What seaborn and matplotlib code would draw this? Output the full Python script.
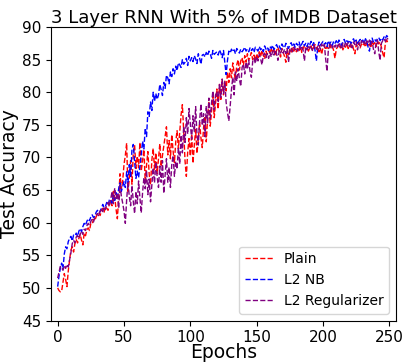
import numpy as np
import pandas as pd
import matplotlib
matplotlib.use("Agg")
import matplotlib.pyplot as plt
import seaborn as sns

title = "3 Layer RNN With 5% of IMDB Dataset"
series_names = ["Plain", "L2 NB", "L2 Regularizer"]
series_colors = ["red", "blue", "purple"]

plain = [
    50.0, 49.6, 49.4, 49.5, 50.8, 52.2, 51.3, 50.2, 52.6, 54.3,
    55.8, 56.3, 55.5, 56.8, 57.4, 56.9, 57.6, 58.2, 57.3, 56.6,
    58.4, 58.0, 58.9, 59.2, 58.8, 59.9, 59.8, 60.5, 60.3, 60.9,
    61.3, 61.5, 61.1, 61.8, 62.2, 61.6, 62.5, 62.2, 61.9, 62.9,
    63.4, 62.6, 64.8, 63.9, 62.1, 60.6, 63.8, 67.5, 65.2, 66.4,
    68.9, 70.3, 72.2, 64.8, 66.7, 69.5, 65.9, 70.6, 71.9, 68.3,
    70.2, 68.4, 72.3, 67.9, 69.5, 71.2, 66.3, 68.8, 70.9, 67.4,
    65.8, 69.6, 71.4, 68.2, 70.7, 67.5, 69.9, 72.1, 68.6, 70.3,
    71.8, 73.2, 74.7, 70.4, 72.6, 69.8, 73.5, 71.0, 69.2, 72.4,
    74.1, 71.3, 73.8, 76.5, 78.1, 74.0, 69.5, 67.1, 70.8, 72.9,
    70.2, 73.6, 69.1, 71.9, 74.3, 70.6, 72.8, 75.4, 73.0, 71.5,
    74.6, 76.3, 72.4, 75.9, 78.6, 74.8, 77.2, 79.4, 76.1, 78.3,
    80.5, 77.4, 81.2, 78.9, 82.0, 79.6, 81.7, 80.2, 83.1, 81.5,
    83.6, 82.2, 84.5, 83.0, 81.8, 84.2, 85.0, 83.4, 84.8, 85.3,
    84.1, 85.6, 84.6, 85.9, 84.9, 85.4, 86.1, 85.0, 85.7, 84.8,
    85.9, 85.3, 86.2, 85.5, 86.4, 85.7, 85.1, 86.3, 85.8, 86.5,
    85.9, 86.6, 86.0, 86.8, 85.6, 86.4, 86.9, 86.2, 85.4, 86.7,
    86.1, 85.5, 84.6, 86.4, 85.8, 86.6, 86.0, 86.9, 86.3, 86.7,
    86.2, 86.9, 86.4, 87.0, 86.1, 86.7, 87.2, 86.5, 86.9, 86.3,
    86.8, 87.1, 86.4, 86.9, 87.3, 86.6, 87.0, 86.2, 86.8, 85.8,
    86.9, 87.2, 86.5, 87.0, 86.7, 87.3, 86.8, 87.1, 86.4, 85.2,
    86.6, 87.0, 87.4, 86.8, 87.2, 86.5, 87.1, 86.9, 87.5, 86.7,
    87.2, 86.9, 87.4, 86.6, 85.9, 87.3, 87.0, 87.6, 86.8, 87.4,
    87.1, 87.5, 86.9, 87.7, 87.2, 87.4, 86.8, 87.8, 87.3, 87.6,
    87.0, 87.9, 87.4, 87.7, 86.9, 86.0, 85.3, 87.6, 88.0, 87.5,
]

l2_nb = [
    50.2, 51.8, 53.0, 53.8, 52.9, 55.2, 56.3, 56.0, 57.1, 57.6,
    57.9, 57.2, 58.1, 58.0, 58.4, 57.9, 58.7, 59.1, 58.6, 59.4,
    59.9, 59.6, 60.2, 60.6, 60.3, 60.9, 61.2, 60.8, 61.0, 61.6,
    61.9, 61.5, 61.7, 62.2, 62.8, 62.3, 62.5, 63.1, 62.7, 63.5,
    63.6, 63.0, 64.2, 63.4, 64.6, 63.8, 65.2, 66.1, 64.8, 65.5,
    66.3, 65.4, 67.8, 66.2, 68.9, 67.1, 71.2, 72.0, 69.4, 66.8,
    67.9, 66.9, 68.7, 70.4, 72.5, 71.3, 74.5, 73.2, 77.0, 76.3,
    78.5, 77.2, 80.0, 78.6, 79.8, 78.9, 79.6, 81.2, 80.4, 79.5,
    81.5, 80.6, 82.6, 82.2, 81.3, 83.1, 82.4, 83.6, 82.8, 84.0,
    83.3, 84.5, 84.2, 83.8, 85.0, 84.3, 84.6, 85.2, 84.1, 85.5,
    84.8, 85.3, 84.7, 85.6, 85.1, 84.4, 85.9, 85.2, 84.3, 85.7,
    85.8, 85.4, 86.1, 85.6, 86.3, 85.9, 85.2, 86.4, 85.8, 86.0,
    86.2, 85.7, 86.5, 86.0, 85.3, 86.4, 84.6, 82.7, 84.9, 86.3,
    86.0, 86.6, 86.2, 86.5, 85.9, 86.7, 86.3, 86.0, 86.6, 86.2,
    86.5, 86.9, 86.3, 86.6, 86.2, 86.8, 86.4, 86.7, 86.1, 86.9,
    86.6, 86.3, 87.0, 86.5, 86.8, 86.2, 87.1, 86.6, 86.9, 86.4,
    87.0, 86.7, 87.2, 86.5, 86.9, 87.3, 86.8, 87.1, 86.6, 87.4,
    87.0, 86.8, 87.5, 87.1, 86.7, 87.3, 87.6, 87.0, 87.4, 86.9,
    87.5, 87.2, 87.7, 86.9, 87.4, 87.8, 87.1, 87.5, 87.0, 87.6,
    87.3, 87.8, 87.2, 87.6, 86.4, 84.8, 86.9, 87.7, 87.2, 87.5,
    87.8, 87.3, 87.6, 87.0, 87.9, 87.4, 87.7, 87.2, 87.8, 87.5,
    87.9, 87.4, 88.0, 87.6, 87.2, 87.8, 88.1, 87.5, 87.9, 87.6,
    88.0, 87.4, 87.9, 88.2, 87.6, 88.0, 87.3, 87.8, 88.1, 87.7,
    88.0, 87.5, 88.2, 87.8, 86.9, 86.3, 87.9, 88.3, 87.7, 88.1,
    87.8, 88.2, 88.4, 87.9, 88.3, 88.0, 88.5, 88.2, 88.7, 88.4,
]

l2_reg = [
    51.5, 52.4, 53.3, 53.1, 52.7, 53.4, 53.0, 53.6, 53.2, 54.3,
    55.4, 56.8, 57.3, 56.9, 57.8, 58.0, 57.6, 58.3, 58.7, 58.2,
    59.0, 58.8, 59.5, 59.9, 59.6, 60.2, 60.5, 60.1, 60.8, 61.2,
    61.4, 61.0, 61.8, 62.1, 61.7, 62.4, 62.0, 62.8, 63.1, 62.5,
    63.6, 64.8, 62.9, 65.3, 63.7, 64.5, 62.2, 65.8, 64.1, 63.0,
    61.8, 59.9, 63.5, 66.2, 64.0, 62.6, 65.7, 63.3, 61.4, 64.8,
    62.9, 66.4, 63.8, 61.5, 64.6, 66.9, 65.2, 68.0, 64.3, 66.7,
    63.2, 65.8, 68.4, 66.1, 69.3, 67.0, 65.4, 68.7, 66.2, 69.5,
    64.5, 67.3, 69.8, 66.2, 68.5, 65.4, 68.9, 70.3, 67.1, 69.4,
    68.2, 71.5, 69.0, 73.4, 70.7, 74.8, 72.3, 76.1, 73.6, 77.5,
    75.2, 72.8, 76.4, 74.0, 77.8, 73.5, 71.9, 75.6, 78.2, 74.9,
    76.7, 73.2, 77.9, 75.3, 79.1, 76.0, 78.4, 80.2, 77.3, 79.6,
    80.1, 78.6, 81.3, 79.2, 82.0, 79.8, 81.6, 78.4, 76.9, 75.6,
    77.8, 80.4, 82.3, 79.6, 83.1, 81.7, 83.6, 82.0, 80.9, 83.8,
    84.3, 82.8, 84.6, 83.5, 84.9, 83.2, 82.3, 84.7, 85.2, 84.4,
    85.5, 84.8, 85.8, 85.1, 84.2, 85.6, 86.0, 85.3, 85.9, 85.2,
    86.1, 85.4, 86.3, 85.7, 86.5, 85.9, 84.9, 86.4, 86.0, 86.6,
    86.0, 86.6, 85.9, 86.7, 84.6, 86.3, 86.8, 86.2, 86.9, 86.5,
    86.8, 86.3, 87.0, 86.6, 87.1, 86.4, 84.8, 86.9, 86.5, 87.2,
    86.7, 87.1, 86.4, 87.3, 86.8, 87.0, 86.5, 87.2, 86.6, 87.4,
    86.9, 87.3, 85.1, 83.2, 86.4, 87.1, 87.5, 86.8, 87.3, 86.9,
    87.4, 86.9, 87.6, 87.1, 86.6, 87.5, 87.0, 87.7, 87.2, 87.6,
    87.0, 87.5, 86.8, 87.7, 87.3, 87.8, 86.5, 87.6, 87.1, 87.9,
    87.4, 87.8, 87.2, 87.9, 87.5, 88.0, 87.3, 87.8, 86.6, 85.9,
    87.6, 88.0, 86.2, 84.9, 87.5, 87.9, 88.2, 87.8, 88.4, 88.1,
]

x_ticks = [0, 50, 100, 150, 200, 250]
y_ticks = [45, 50, 55, 60, 65, 70, 75, 80, 85, 90]

epochs = list(range(len(plain)))
df = pd.concat([
    pd.DataFrame({"Epochs": epochs, "Test Accuracy": vals, "Model": name})
    for name, vals in zip(series_names, [plain, l2_nb, l2_reg])
], ignore_index=True)

fig = plt.figure(figsize=(4.03, 3.62), dpi=100)
ax = fig.add_axes([0.1266, 0.1146, 0.8560, 0.8108])

for name, color in zip(series_names, series_colors):
    sub = df[df["Model"] == name]
    sns.lineplot(data=sub, x="Epochs", y="Test Accuracy", color=color,
                 linestyle="--", linewidth=1.0, label=name, ax=ax)

ax.set_xlim(-5, 255)
ax.set_ylim(45, 90)
ax.set_xticks(x_ticks)
ax.set_yticks(y_ticks)
ax.tick_params(labelsize=11)
ax.set_xlabel("Epochs", fontsize=13.5, labelpad=-1.5)
ax.set_ylabel("Test Accuracy", fontsize=13.5, labelpad=2)
ax.set_title(title, fontsize=13, pad=3)
ax.legend(loc="lower right", fontsize=10)

fig.savefig("out.png", dpi=100)
